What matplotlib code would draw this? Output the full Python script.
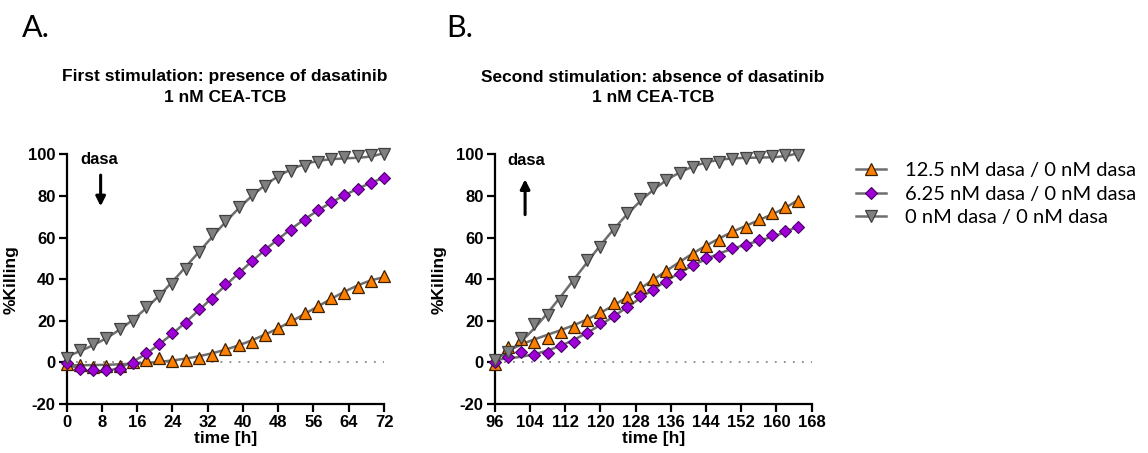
import numpy as np
import matplotlib
matplotlib.use("Agg")
import matplotlib.pyplot as plt
from matplotlib.lines import Line2D

# ---- data -----------------------------------------------------------------
time_a = np.arange(0, 73, 3)          # first stimulation, h
time_b = np.arange(96, 166, 3)        # second stimulation, h

kill_a_12_5 = [-0.8, -1.3, -2.4, -1.8, -1.8, 0.3, 1.1, 1.9, 0.8, 1.1, 1.9, 3.6,
               6.2, 8.5, 10.0, 13.3, 16.5, 20.7, 23.9, 27.0, 30.8, 33.5, 36.0,
               39.0, 41.5]
kill_a_6_25 = [-0.5, -3.0, -3.8, -3.8, -3.0, -0.5, 4.3, 8.7, 14.3, 18.8, 25.8,
               30.4, 37.6, 42.8, 48.8, 54.2, 59.0, 63.6, 68.4, 73.2, 77.2, 80.5,
               83.5, 86.0, 88.8]
kill_a_0 = [2.0, 6.0, 9.0, 11.5, 16.0, 20.0, 26.4, 32.0, 37.5, 45.0, 53.0, 61.8,
            68.0, 74.8, 80.4, 85.0, 89.0, 91.8, 94.4, 96.5, 97.8, 98.5, 99.0,
            99.5, 100.0]

kill_b_12_5 = [-1.0, 7.5, 11.0, 10.0, 11.8, 14.5, 17.2, 20.5, 24.4, 28.4, 31.4,
               36.2, 40.0, 44.0, 48.0, 52.0, 55.8, 58.6, 63.0, 65.2, 69.0, 71.8,
               74.6, 77.7]
kill_b_6_25 = [0.2, 2.7, 4.8, 3.5, 4.5, 7.7, 9.8, 14.3, 18.9, 22.4, 26.4, 32.0,
               34.6, 38.8, 42.6, 47.0, 50.2, 51.0, 54.8, 56.2, 58.6, 61.0, 63.0,
               65.2]
kill_b_0 = [1.0, 5.0, 11.5, 18.5, 22.8, 29.6, 38.4, 49.2, 55.6, 63.8, 71.8, 78.4,
            83.6, 87.5, 91.1, 93.8, 95.3, 96.5, 97.6, 98.3, 98.9, 99.3, 99.8,
            99.8]

labels = ["12.5 nM dasa / 0 nM dasa", "6.25 nM dasa / 0 nM dasa",
          "0 nM dasa / 0 nM dasa"]
xticks_a = list(range(0, 73, 8))
xticks_b = list(range(96, 169, 8))
yticks = list(range(-20, 101, 20))

# ---- styles ---------------------------------------------------------------
plt.rcParams["axes.unicode_minus"] = False
W, H = 1148, 453
styles = [
    dict(marker="^", ms=9.0, mfc="#FF8000", mec="#3a2000", mew=0.9),
    dict(marker="D", ms=6.5, mfc="#A000D8", mec="#4a0066", mew=0.8),
    dict(marker="v", ms=9.0, mfc="#808080", mec="#404040", mew=0.9),
]
fit_color = "#6e6e6e"
bold_font = ["Liberation Sans", "DejaVu Sans"]
plain_font = ["Lato", "DejaVu Sans"]
TICK_FS = 12
LABEL_FS = 12.5
TITLE_FS = 12.5

fig = plt.figure(figsize=(W / 100, H / 100), dpi=100)


def px_axes(left, top, right, bottom):
    return fig.add_axes([left / W, 1 - bottom / H, (right - left) / W,
                         (bottom - top) / H])


def draw_panel(ax, t, series, xticks, xlim):
    ax.axhline(0, color="#8a8a8a", lw=1.3, ls=(0, (1, 4)), zorder=1)
    tt = np.linspace(t[0], t[-1], 300)
    for y, st in zip(series, styles):
        coef = np.polyfit(t, y, 5)
        ax.plot(tt, np.polyval(coef, tt), color=fit_color, lw=1.8, zorder=2,
                clip_on=False)
        ax.plot(t, y, ls="none", zorder=3, clip_on=False, **st)
    ax.set_xlim(*xlim)
    ax.set_ylim(-20, 100)
    ax.set_xticks(xticks)
    ax.set_yticks(yticks)
    for s in ("top", "right"):
        ax.spines[s].set_visible(False)
    for s in ("left", "bottom"):
        ax.spines[s].set_linewidth(1.6)
    ax.tick_params(direction="out", length=6, width=1.6, pad=2)
    for lab in ax.get_xticklabels() + ax.get_yticklabels():
        lab.set_fontfamily(bold_font)
        lab.set_fontweight("bold")
        lab.set_fontsize(TICK_FS)
    ax.set_xlabel("time [h]", family=bold_font, weight="bold",
                  fontsize=LABEL_FS, labelpad=1)
    ax.set_ylabel("%Killing", family=bold_font, weight="bold",
                  fontsize=LABEL_FS)


ax_a = px_axes(66.7, 154.3, 384, 404)
ax_b = px_axes(494.7, 154.3, 811.7, 404)

draw_panel(ax_a, time_a, [kill_a_12_5, kill_a_6_25, kill_a_0],
           xticks_a, (0, 72))
draw_panel(ax_b, time_b, [kill_b_12_5, kill_b_6_25, kill_b_0],
           xticks_b, (96, 168))
ax_a.yaxis.set_label_coords(-48 / 317, 0.5)
ax_b.yaxis.set_label_coords(-48 / 317, 0.5)

# dasatinib markers
arrow = dict(arrowstyle="-|>", lw=2.2, color="black", mutation_scale=14,
             shrinkA=0, shrinkB=0)
ax_a.text(7.4, 97.5, "dasa", ha="center", va="center", family=bold_font,
          weight="bold", fontsize=12)
ax_a.annotate("", xy=(7.7, 75), xytext=(7.7, 90), arrowprops=arrow)
ax_b.text(103.1, 97, "dasa", ha="center", va="center", family=bold_font,
          weight="bold", fontsize=12)
ax_b.annotate("", xy=(102.9, 88), xytext=(102.9, 71), arrowprops=arrow)

# titles
for cx, line1 in ((225, "First stimulation: presence of dasatinib"),
                  (653, "Second stimulation: absence of dasatinib")):
    fig.text(cx / W, 1 - 77 / H, line1, ha="center", va="center",
             family=bold_font, weight="bold", fontsize=TITLE_FS)
    fig.text(cx / W, 1 - 97 / H, "1 nM CEA-TCB", ha="center", va="center",
             family=bold_font, weight="bold", fontsize=TITLE_FS)

fig.text(22 / W, 1 - 37 / H, "A.", ha="left", va="baseline",
         family=plain_font, fontsize=22)
fig.text(446 / W, 1 - 37 / H, "B.", ha="left", va="baseline",
         family=plain_font, fontsize=22)

# legend: fit line with the series marker
handles = [Line2D([], [], color=fit_color, lw=1.8, **st) for st in styles]
fig.legend(handles, labels, loc="upper left",
           bbox_to_anchor=(856 / W, 1 - 162 / H), frameon=False,
           prop=dict(family=plain_font, size=14.5), handlelength=1.5,
           handletextpad=0.95, labelspacing=0.32, borderaxespad=0,
           borderpad=0)

fig.savefig("out.png", dpi=100)
